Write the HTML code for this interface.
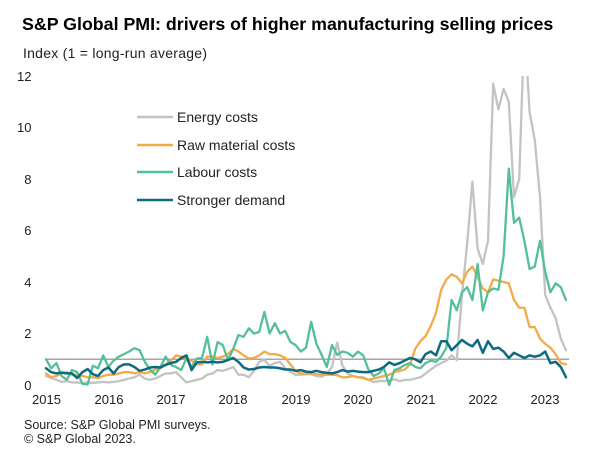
<!DOCTYPE html>
<html><head><meta charset="utf-8"><style>
html,body{margin:0;padding:0;background:#fff;}
svg{display:block;font-family:"Liberation Sans",Arial,sans-serif;}
</style></head><body>
<svg width="607" height="466" viewBox="0 0 607 466" xmlns="http://www.w3.org/2000/svg">
<defs><clipPath id="pc"><rect x="30" y="76" width="560" height="330"/></clipPath></defs>
<rect width="607" height="466" fill="#fff"/>
<text x="22" y="30" font-size="17.8" font-weight="bold" fill="#000">S&amp;P Global PMI: drivers of higher manufacturing selling prices</text>
<text x="23" y="58" font-size="14" fill="#222" textLength="184">Index (1 = long-run average)</text>
<g font-size="13" fill="#222" text-anchor="end">
<text x="31.5" y="81">12</text>
<text x="31.5" y="132">10</text>
<text x="31.5" y="184">8</text>
<text x="31.5" y="235">6</text>
<text x="31.5" y="287">4</text>
<text x="31.5" y="338">2</text>
<text x="31.5" y="390">0</text>
</g>
<g font-size="13" fill="#222" text-anchor="middle">
<text x="46.5" y="404">2015</text>
<text x="109" y="404">2016</text>
<text x="171" y="404">2017</text>
<text x="233" y="404">2018</text>
<text x="296" y="404">2019</text>
<text x="358" y="404">2020</text>
<text x="421" y="404">2021</text>
<text x="483" y="404">2022</text>
<text x="545" y="404">2023</text>
</g>
<line x1="45" y1="359.25" x2="569" y2="359.25" stroke="#a6a6a6" stroke-width="1.5"/>
<g clip-path="url(#pc)">
<g transform="translate(46,385) scale(5.2,-25.75)" fill="none" stroke-linejoin="round" stroke-linecap="round">
<polyline vector-effect="non-scaling-stroke" stroke="#c3c3c3" stroke-width="2.3" points="0,.35 1,.27 2,.2 3,.12 4,.15 5,.1 6,.1 7,.07 8,.1 9,.08 10,.1 11,.12 12,.1 13,.12 14,.15 15,.2 16,.25 17,.3 18,.4 19,.25 20,.2 21,.25 22,.35 23,.45 24,.45 25,.5 26,.3 27,.1 28,.15 29,.2 30,.25 31,.4 32,.45 33,.58 34,.55 35,.62 36,.7 37,.4 38,.4 39,.3 40,.55 41,.9 42,.97 43,.75 44,.85 45,.9 46,.65 47,.5 48,.4 49,.4 50,.42 51,.42 52,.35 53,.32 54,.45 55,.7 56,1.65 57,.75 58,.45 59,.35 60,.3 61,.3 62,.2 63,.12 64,.15 65,.15 66,.18 67,.22 68,.15 69,.2 70,.2 71,.25 72,.3 73,.45 74,.6 75,.75 76,.85 77,.95 78,1.15 79,.97 80,3.5 81,5.5 82,7.9 83,5.3 84,4.7 85,5.6 86,11.7 87,10.7 88,11.5 89,11 90,7.3 91,8.0 92,14 93,10.6 94,9.5 95,7.3 96,3.5 97,3.0 98,2.6 99,1.8 100,1.35"/>
<polyline vector-effect="non-scaling-stroke" stroke="#f4aa48" stroke-width="2.3" points="0,.45 1,.3 2,.35 3,.45 4,.5 5,.4 6,.4 7,.35 8,.3 9,.3 10,.27 11,.35 12,.4 13,.4 14,.45 15,.5 16,.5 17,.45 18,.5 19,.45 20,.5 21,.6 22,.65 23,.8 24,.95 25,1.15 26,1.1 27,1.0 28,.95 29,.8 30,.8 31,1.1 32,1.1 33,1.05 34,1.1 35,1.2 36,1.4 37,1.3 38,1.15 39,1.03 40,1.05 41,1.15 42,1.3 43,1.2 44,1.2 45,1.15 46,1.05 47,.8 48,.55 49,.45 50,.45 51,.45 52,.42 53,.4 54,.4 55,.4 56,.38 57,.3 58,.3 59,.35 60,.3 61,.27 62,.2 63,.25 64,.3 65,.35 66,.4 67,.5 68,.55 69,.6 70,.8 71,1.4 72,1.7 73,1.9 74,2.3 75,2.8 76,3.7 77,4.1 78,4.3 79,4.2 80,3.95 81,4.4 82,4.6 83,4.2 84,3.75 85,3.6 86,4.1 87,4.05 88,4.0 89,3.95 90,3.3 91,3.0 92,3.0 93,2.25 94,2.25 95,1.8 96,1.6 97,1.45 98,1.2 99,.85 100,.8"/>
<polyline vector-effect="non-scaling-stroke" stroke="#55bf99" stroke-width="2.3" points="0,1.0 1,.65 2,.85 3,.35 4,.2 5,.58 6,.5 7,.05 8,.02 9,.75 10,.65 11,1.15 12,.7 13,.95 14,1.1 15,1.2 16,1.3 17,1.43 18,1.35 19,.9 20,.6 21,.4 22,.7 23,1.1 24,.78 25,.7 26,.58 27,1.03 28,.7 29,1.03 30,1.05 31,1.87 32,.8 33,1.67 34,1.55 35,.97 36,1.4 37,1.94 38,1.87 39,2.2 40,2.0 41,2.06 42,2.84 43,2.0 44,2.4 45,2.0 46,2.1 47,1.67 48,1.55 49,1.3 50,1.45 51,2.45 52,1.6 53,1.17 54,.7 55,1.55 56,1.17 57,1.3 58,1.25 59,1.1 60,1.3 61,1.15 62,.6 63,.35 64,.45 65,.65 66,0 67,.58 68,.65 69,.78 70,.85 71,.7 72,.65 73,.85 74,.95 75,.9 76,1.1 77,1.45 78,3.3 79,2.9 80,3.6 81,3.8 82,3.3 83,4.7 84,2.9 85,3.6 86,3.75 87,3.7 88,5.0 89,8.4 90,6.3 91,6.5 92,5.6 93,4.5 94,4.6 95,5.6 96,4.4 97,3.6 98,3.95 99,3.8 100,3.3"/>
<polyline vector-effect="non-scaling-stroke" stroke="#0f6a80" stroke-width="2.5" points="0,.65 1,.5 2,.45 3,.48 4,.45 5,.45 6,.27 7,.5 8,.62 9,.42 10,.35 11,.58 12,.68 13,.45 14,.7 15,.8 16,.8 17,.7 18,.55 19,.6 20,.68 21,.7 22,.68 23,.78 24,.85 25,.9 26,1.05 27,1.15 28,.58 29,.88 30,.9 31,.88 32,.9 33,.88 34,.9 35,.97 36,1.05 37,.9 38,.68 39,.6 40,.62 41,.68 42,.7 43,.68 44,.68 45,.65 46,.6 47,.6 48,.55 49,.58 50,.52 51,.5 52,.55 53,.5 54,.47 55,.45 56,.5 57,.58 58,.52 59,.55 60,.52 61,.5 62,.5 63,.55 64,.6 65,.7 66,.88 67,.78 68,.85 69,.95 70,1.05 71,1.0 72,.88 73,1.2 74,1.3 75,1.15 76,1.7 77,1.7 78,1.35 79,1.55 80,1.75 81,1.6 82,1.5 83,1.75 84,1.25 85,1.7 86,1.4 87,1.45 88,1.3 89,1.05 90,1.25 91,1.15 92,1.05 93,1.15 94,1.1 95,1.15 96,1.3 97,.85 98,.9 99,.7 100,.3"/>
</g>
</g>
<g stroke-width="2.5">
<line x1="137" y1="117" x2="173" y2="117" stroke="#c3c3c3"/>
<line x1="137" y1="145" x2="173" y2="145" stroke="#f4aa48"/>
<line x1="137" y1="172" x2="173" y2="172" stroke="#55bf99"/>
<line x1="137" y1="200" x2="173" y2="200" stroke="#0f6a80"/>
</g>
<g font-size="14" fill="#222">
<text x="177" y="122">Energy costs</text>
<text x="177" y="150">Raw material costs</text>
<text x="177" y="177">Labour costs</text>
<text x="177" y="205">Stronger demand</text>
</g>
<g font-size="12.5" fill="#222">
<text x="24" y="429">Source: S&amp;P Global PMI surveys.</text>
<text x="24" y="443">© S&amp;P Global 2023.</text>
</g>
</svg>
</body></html>
